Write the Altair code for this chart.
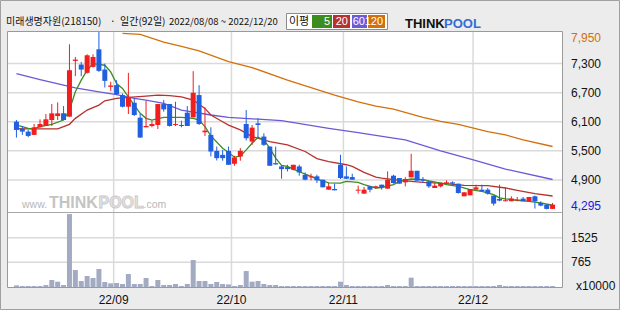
import altair as alt
import pandas as pd

# ---------------- data ----------------
opens = [6102, 5952, 5897, 5829, 5986, 6013, 6136, 6218, 6273, 6205,
         7354, 7279, 7108, 7231, 7593, 7176, 6820, 6855, 6650, 6410,
         6492, 6184, 5986, 6013, 6034, 6465, 6465, 6034, 6034, 6287,
         6191, 6650, 5883, 5829, 5500, 5418, 5500, 5234, 5384, 6054,
         5692, 6068, 5795, 5589, 5247, 5179, 5165, 5111, 5179, 5008,
         4954, 4975, 4906, 4700, 4714, 5214, 4974, 4960, 4680, 4619,
         4769, 4735, 4803, 4721, 4988, 4940, 4851, 4954, 5090, 4906,
         4872, 4735, 4769, 4824, 4851, 4824, 4564, 4584, 4700, 4700,
         4700, 4578, 4509, 4461, 4461, 4475, 4516, 4461, 4564, 4427,
         4393, 4304]
highs = [6136, 6013, 5931, 6054, 6150, 6259, 6465, 6499, 6424, 7696,
         7436, 7333, 7491, 7491, 7950, 7299, 6923, 6957, 6684, 7108,
         6581, 6259, 6533, 6123, 6465, 6547, 6465, 6513, 6123, 6424,
         7142, 6855, 6396, 5986, 5589, 5521, 5589, 5398, 5555, 6342,
         6034, 6171, 5863, 5589, 5589, 5193, 5213, 5213, 5213, 5056,
         5029, 5008, 4906, 4838, 4824, 5419, 5179, 5029, 4783, 4755,
         4769, 4783, 4803, 5077, 5008, 4940, 4960, 5439, 5090, 4960,
         4892, 4837, 4837, 4892, 4872, 4824, 4646, 4714, 4803, 4803,
         4735, 4578, 4803, 4748, 4564, 4550, 4550, 4550, 4578, 4461,
         4393, 4427]
lows = [5774, 5829, 5781, 5829, 5986, 6013, 6013, 6136, 6136, 6205,
        7039, 7039, 7094, 7217, 7128, 6807, 6738, 6650, 6396, 6259,
        6219, 5774, 5986, 5986, 5952, 6308, 6000, 6013, 5986, 6013,
        6191, 6034, 5808, 5384, 5302, 5296, 5213, 5193, 5296, 5713,
        5624, 5761, 5603, 5193, 5220, 4926, 5077, 5097, 4988, 4892,
        4892, 4838, 4749, 4700, 4687, 4920, 4920, 4906, 4619, 4619,
        4646, 4714, 4700, 4721, 4824, 4824, 4769, 4954, 4885, 4837,
        4735, 4735, 4748, 4824, 4803, 4619, 4564, 4584, 4700, 4666,
        4598, 4372, 4461, 4461, 4461, 4461, 4461, 4461, 4311, 4359,
        4295, 4304]
closes = [5931, 5897, 5808, 5986, 6054, 6150, 6273, 6273, 6136, 7162,
          7381, 7176, 7470, 7436, 7149, 6943, 6848, 6670, 6410, 6595,
          6239, 5774, 6013, 6054, 6465, 6355, 6013, 6054, 6013, 6013,
          6697, 6054, 5917, 5487, 5350, 5350, 5213, 5364, 5500, 5761,
          5979, 6034, 5624, 5193, 5220, 5124, 5124, 5213, 5056, 4906,
          4975, 4892, 4749, 4769, 4687, 4940, 4926, 4906, 4700, 4700,
          4700, 4769, 4748, 4906, 4837, 4824, 4920, 5090, 4885, 4885,
          4769, 4783, 4837, 4851, 4824, 4632, 4646, 4714, 4748, 4666,
          4619, 4413, 4475, 4482, 4516, 4495, 4461, 4550, 4461, 4372,
          4304, 4393]
volumes = [50, 30, 30, 30, 30, 60, 216, 165, 60, 2256,
           525, 185, 340, 278, 556, 155, 113, 124, 93, 402,
           93, 93, 278, 30, 216, 62, 62, 93, 30, 93,
           834, 185, 185, 93, 155, 93, 80, 30, 62, 494,
           165, 185, 93, 62, 62, 30, 30, 30, 30, 30,
           30, 30, 30, 30, 30, 165, 62, 30, 30, 30,
           30, 30, 30, 62, 30, 30, 30, 288, 30, 30,
           30, 30, 30, 30, 30, 30, 30, 30, 30, 30,
           30, 30, 62, 30, 30, 30, 30, 30, 30, 30,
           30, 30]

ma5_idx = [0, 1, 2, 3, 4, 6, 8, 9, 10, 11, 12, 13, 15, 16, 17, 18, 19, 20, 21, 22,
           23, 25, 28, 30, 31, 32, 33, 35, 36, 37, 38, 39, 40, 41, 42, 43, 44, 45, 46, 47,
           48, 50, 51, 53, 55, 56, 58, 59, 61, 62, 64, 65, 67, 69, 70, 72, 73, 75, 77, 79,
           81, 82, 83, 85, 87, 89, 91]
ma5_val = [6030, 6000, 5965, 5960, 5999, 6047, 6136, 6341, 6718, 6957, 7162, 7299, 7265, 7128, 6889, 6786, 6615, 6444, 6273, 6171,
           6136, 6191, 6191, 6171, 6136, 6000, 5808, 5555, 5466, 5370, 5390, 5521, 5658, 5781, 5726, 5555, 5350, 5200, 5179, 5124,
           5070, 4974, 4919, 4840, 4837, 4872, 4850, 4803, 4735, 4745, 4803, 4870, 4920, 4906, 4880, 4837, 4803, 4769, 4700, 4666,
           4598, 4530, 4509, 4482, 4461, 4427, 4379]
ma20_idx = [0, 2, 7, 9, 10, 12, 14, 15, 17, 19, 22, 24, 26, 28, 30, 32, 33, 35, 36, 38,
            40, 43, 46, 49, 51, 53, 56, 57, 59, 61, 62, 64, 67, 69, 72, 76, 80, 83, 85, 88, 91]
ma20_val = [5960, 5952, 5952, 6047, 6170, 6341, 6444, 6533, 6581, 6601, 6629, 6649, 6640, 6615, 6547, 6376, 6239, 6100, 6030, 5931,
            5794, 5692, 5623, 5487, 5340, 5280, 5214, 5179, 5056, 4960, 4940, 4906, 4872, 4851, 4837, 4790, 4783, 4735, 4687, 4619, 4570]
ma60_idx = [0, 4, 10, 14, 17, 20, 22, 25, 28, 33, 36, 45, 53, 58, 64, 66, 72, 78, 83, 91]
ma60_val = [7090, 6970, 6800, 6718, 6660, 6581, 6547, 6478, 6341, 6239, 6191, 6123, 5965, 5877, 5761, 5726, 5500, 5300, 5125, 4910]
ma120_idx = [18, 21, 25, 28, 31, 36, 40, 46, 54, 58, 61, 64, 69, 72, 75, 80, 83, 86, 91]
ma120_val = [7920, 7900, 7740, 7655, 7560, 7340, 7217, 6957, 6650, 6512, 6420, 6362, 6191, 6110, 6047, 5897, 5829, 5726, 5590]

price_ticks = [7300, 6700, 6100, 5500, 4900]
price_tick_labels = ["7,300", "6,700", "6,100", "5,500", "4,900"]
max_price = 7950
max_label = "7,950"
min_price = 4295
min_label = "4,295"
vol_ticks = [1525, 765]
vol_tick_labels = ["1525", "765"]
month_pos = [16.5, 36.5, 55.5, 77.5]
month_labels = ["22/09", "22/10", "22/11", "22/12"]
title_parts = ["미래생명자원(218150)", "·", "일간(92일)", "2022/08/08 ~ 2022/12/20"]
ma_names = ["5", "20", "60", "120"]

# ---------------- styling ----------------
RED = "#f01e1e"
BLUE = "#1f5fe0"
C5, C20, C60, C120 = "#3c8c20", "#b8312f", "#6a5ad8", "#d2700c"
GRID = "#dadada"
NUMFONT = "Liberation Sans"
KFONT = "Noto Sans CJK KR"

xs = alt.Scale(domain=[-0.5833, 91.75], range=[8, 562])
ps = alt.Scale(domain=[4240, 7950], range=[212, 32])
vs = alt.Scale(domain=[0, 2320], range=[287, 212])

n = len(opens)
df = pd.DataFrame({"i": list(range(n)), "open": opens, "high": highs, "low": lows,
                   "close": closes, "vol": volumes})
df["dir"] = ["up" if c >= o else "down" for o, c in zip(opens, closes)]
one = pd.DataFrame({"a": [0]})

def X(field="i"):
    return alt.X(f"{field}:Q", scale=xs, axis=None)

col = alt.Color("dir:N", scale=alt.Scale(domain=["up", "down"], range=[RED, BLUE]), legend=None)

def label(text, x, y, size, font=NUMFONT, color="#111111", align="left", baseline="middle", **kw):
    return alt.Chart(one).mark_text(text=text, font=font, fontSize=size, color=color,
                                    align=align, baseline=baseline, **kw).encode(
        x=alt.value(x), y=alt.value(y))

layers = []
# outer frame
layers.append(alt.Chart(one).mark_rect(fill="#ececec", stroke="#a0a0a0", strokeWidth=1).encode(
    x=alt.value(0.5), x2=alt.value(619.5), y=alt.value(0.5), y2=alt.value(309.5)))
# panel
layers.append(alt.Chart(one).mark_rect(fill="white", stroke="#9a9a9a", strokeWidth=1).encode(
    x=alt.value(7.5), x2=alt.value(562.5), y=alt.value(31.5), y2=alt.value(287.5)))
# vertical grid
mdf = pd.DataFrame({"p": month_pos, "t": month_labels})
layers.append(alt.Chart(mdf).mark_rule(color=GRID, strokeWidth=1.5).encode(
    x=X("p"), y=alt.value(32), y2=alt.value(287)))
# horizontal price grid
pdf = pd.DataFrame({"v": price_ticks, "t": price_tick_labels})
layers.append(alt.Chart(pdf).mark_rule(color=GRID, strokeWidth=1.5).encode(
    y=alt.Y("v:Q", scale=ps, axis=None), x=alt.value(8), x2=alt.value(562)))
vdf = pd.DataFrame({"v": vol_ticks, "t": vol_tick_labels})
layers.append(alt.Chart(vdf).mark_rule(color=GRID, strokeWidth=1.5).encode(
    y=alt.Y("v:Q", scale=vs, axis=None), x=alt.value(8), x2=alt.value(562)))
# separator
layers.append(alt.Chart(one).mark_rule(color="#a8a8a8", strokeWidth=1).encode(
    x=alt.value(8), x2=alt.value(562), y=alt.value(212.5)))

# watermark
layers.append(label("www.", 22, 208, 10.5, font="Liberation Sans", color="#b8b8b8", baseline="alphabetic"))
layers.append(label("THINK", 49, 208, 16, font="Liberation Sans", color="#c4c4c4", baseline="alphabetic",
                    fontWeight="bold"))
layers.append(label("POOL", 98.5, 208, 16, font="Liberation Sans", color="#e4e4e4", baseline="alphabetic",
                    fontWeight="bold", stroke="#c8c8c8", strokeWidth=0.8))
layers.append(label(".com", 143.5, 208, 10.5, font="Liberation Sans", color="#b8b8b8", baseline="alphabetic"))

# volume bars
layers.append(alt.Chart(df).mark_bar(size=5, color="#a3abc3").encode(
    x=X(), y=alt.Y("vol:Q", scale=vs, axis=None)))

# moving averages
for idx, val, c in [(ma120_idx, ma120_val, C120), (ma60_idx, ma60_val, C60),
                    (ma20_idx, ma20_val, C20), (ma5_idx, ma5_val, C5)]:
    d = pd.DataFrame({"i": idx, "v": val})
    layers.append(alt.Chart(d).mark_line(color=c, strokeWidth=1.3).encode(
        x=X(), y=alt.Y("v:Q", scale=ps, axis=None)))

# candles
layers.append(alt.Chart(df).mark_rule(strokeWidth=1).encode(
    x=X(), y=alt.Y("low:Q", scale=ps, axis=None), y2="high:Q", color=col))
layers.append(alt.Chart(df).mark_bar(size=5).encode(
    x=X(), y=alt.Y("open:Q", scale=ps, axis=None), y2="close:Q", color=col))

# right price labels
layers.append(alt.Chart(pdf).mark_text(font=NUMFONT, fontSize=12, align="left", baseline="middle",
                                       color="#111111").encode(
    x=alt.value(571), y=alt.Y("v:Q", scale=ps, axis=None), text="t:N"))
layers.append(alt.Chart(pd.DataFrame({"v": [max_price], "t": [max_label]})).mark_text(
    font=NUMFONT, fontSize=12, align="left", baseline="middle", color=C120, dy=6).encode(
    x=alt.value(571), y=alt.Y("v:Q", scale=ps, axis=None), text="t:N"))
layers.append(alt.Chart(pd.DataFrame({"v": [min_price], "t": [min_label]})).mark_text(
    font=NUMFONT, fontSize=12, align="left", baseline="middle", color="#1a1ae0", dy=-3).encode(
    x=alt.value(571), y=alt.Y("v:Q", scale=ps, axis=None), text="t:N"))
layers.append(alt.Chart(vdf).mark_text(font=NUMFONT, fontSize=12, align="left", baseline="middle",
                                       color="#111111").encode(
    x=alt.value(571), y=alt.Y("v:Q", scale=vs, axis=None), text="t:N"))
layers.append(label("x10000", 576, 286, 12))
# month labels
layers.append(alt.Chart(mdf).mark_text(font=NUMFONT, fontSize=12, align="center", baseline="middle",
                                       color="#111111").encode(
    x=X("p"), y=alt.value(300), text="t:N"))

# title (in segments placed as in the reference)
layers.append(label(title_parts[0], 6, 22, 10, font=KFONT))
layers.append(label(title_parts[1], 110, 22, 10, font=KFONT))
layers.append(label(title_parts[2], 120, 22, 10, font=KFONT))
layers.append(label(title_parts[3], 169, 22, 9.5, font=KFONT))
# MA legend box
layers.append(alt.Chart(one).mark_rect(fill="white", stroke="#8c8c8c", strokeWidth=1).encode(
    x=alt.value(286.5), x2=alt.value(387.5), y=alt.value(13.5), y2=alt.value(29.5)))
layers.append(label("이평", 299, 21.5, 11, font=KFONT, align="center"))
box_x = [(312, 332), (333, 350), (352, 367), (368, 385)]
for (x0, x1), c, name in zip(box_x, [C5, C20, C60, C120], ma_names):
    layers.append(alt.Chart(one).mark_rect(fill=c).encode(
        x=alt.value(x0), x2=alt.value(x1), y=alt.value(15), y2=alt.value(28)))
    layers.append(label(name, x1 - 2, 21.5, 11, color="white", align="right"))
# logo
layers.append(label("THINK", 405, 28, 13, font="Liberation Sans", baseline="alphabetic", fontWeight="bold"))
layers.append(label("POOL", 444, 28, 13, font="Liberation Sans", color="#2f6fd6", baseline="alphabetic",
                    fontWeight="bold"))

chart = alt.layer(*layers).resolve_scale(y="independent").properties(
    width=620, height=310, autosize=alt.AutoSizeParams(type="none"), padding=0,
    background="#ececec").configure_view(strokeWidth=0)

chart.save("out.html", embed_options={"renderer": "svg", "actions": False})
